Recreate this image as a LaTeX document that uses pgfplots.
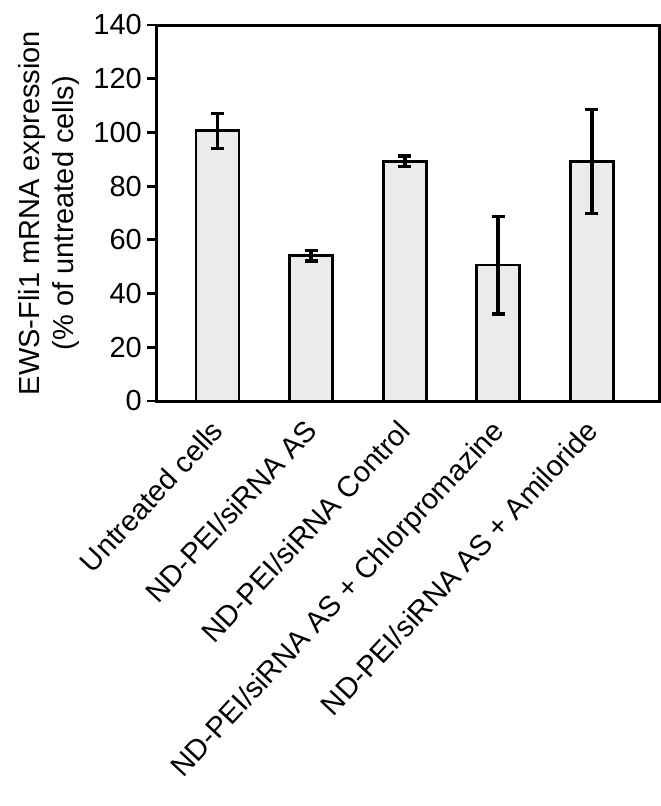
\documentclass[border=0pt]{standalone}
\usepackage{pgfplots}
\pgfplotsset{compat=1.18}
\usepackage{fontspec}
\setmainfont{Liberation Sans}
\definecolor{barfill}{RGB}{235,235,238}
\begin{document}
\begin{tikzpicture}
\useasboundingbox (-157bp,-405bp) rectangle (504bp,401bp);
\begin{axis}[
  at={(0,0)}, anchor=south west,
  scale only axis, width=502bp, height=376bp,
  xmin=-0.646, xmax=4.716, ymin=0, ymax=140,
  ytick={0,20,...,140},
  xtick={0,1,2,3,4},
  xticklabels={Untreated cells,ND-PEI/siRNA AS,ND-PEI/siRNA Control,ND-PEI/siRNA AS + Chlorpromazine,ND-PEI/siRNA AS + Amiloride},
  major tick length=10bp,
  tick align=outside,
  ytick pos=left,
  xtick style={draw=none},
  ytick style={line width=2.8bp, black},
  axis line style={line width=3bp},
  font=\fontsize{29bp}{34bp}\selectfont,
  /pgf/number format/assume math mode=true,
  yticklabel style={inner sep=0pt, xshift=-5bp},
  xticklabel style={xshift=-8bp, yshift=-7bp, rotate=47, anchor=north east, inner sep=0pt, font=\fontsize{29bp}{34bp}\selectfont},
  ylabel={EWS-Fli1 mRNA expression\\(\% of untreated cells)},
  ylabel style={align=center, at={(axis description cs:-0.147,0.5)}, anchor=south},
]
\addplot[ybar, bar width=43bp, fill=barfill, draw=black, line width=2.7bp,
  error bars/.cd, y dir=both, y explicit,
  error bar style={line width=3.8bp, black},
  error mark options={rotate=90, mark size=6.5bp, line width=3.2bp, black}]
  coordinates {
  (0,100.6) +- (0,6.5)
  (1,54.1) +- (0,2.0)
  (2,89.2) +- (0,2.0)
  (3,50.6) +- (0,18.2)
  (4,89.2) +- (0,19.3)
};
\end{axis}
\end{tikzpicture}
\end{document}
